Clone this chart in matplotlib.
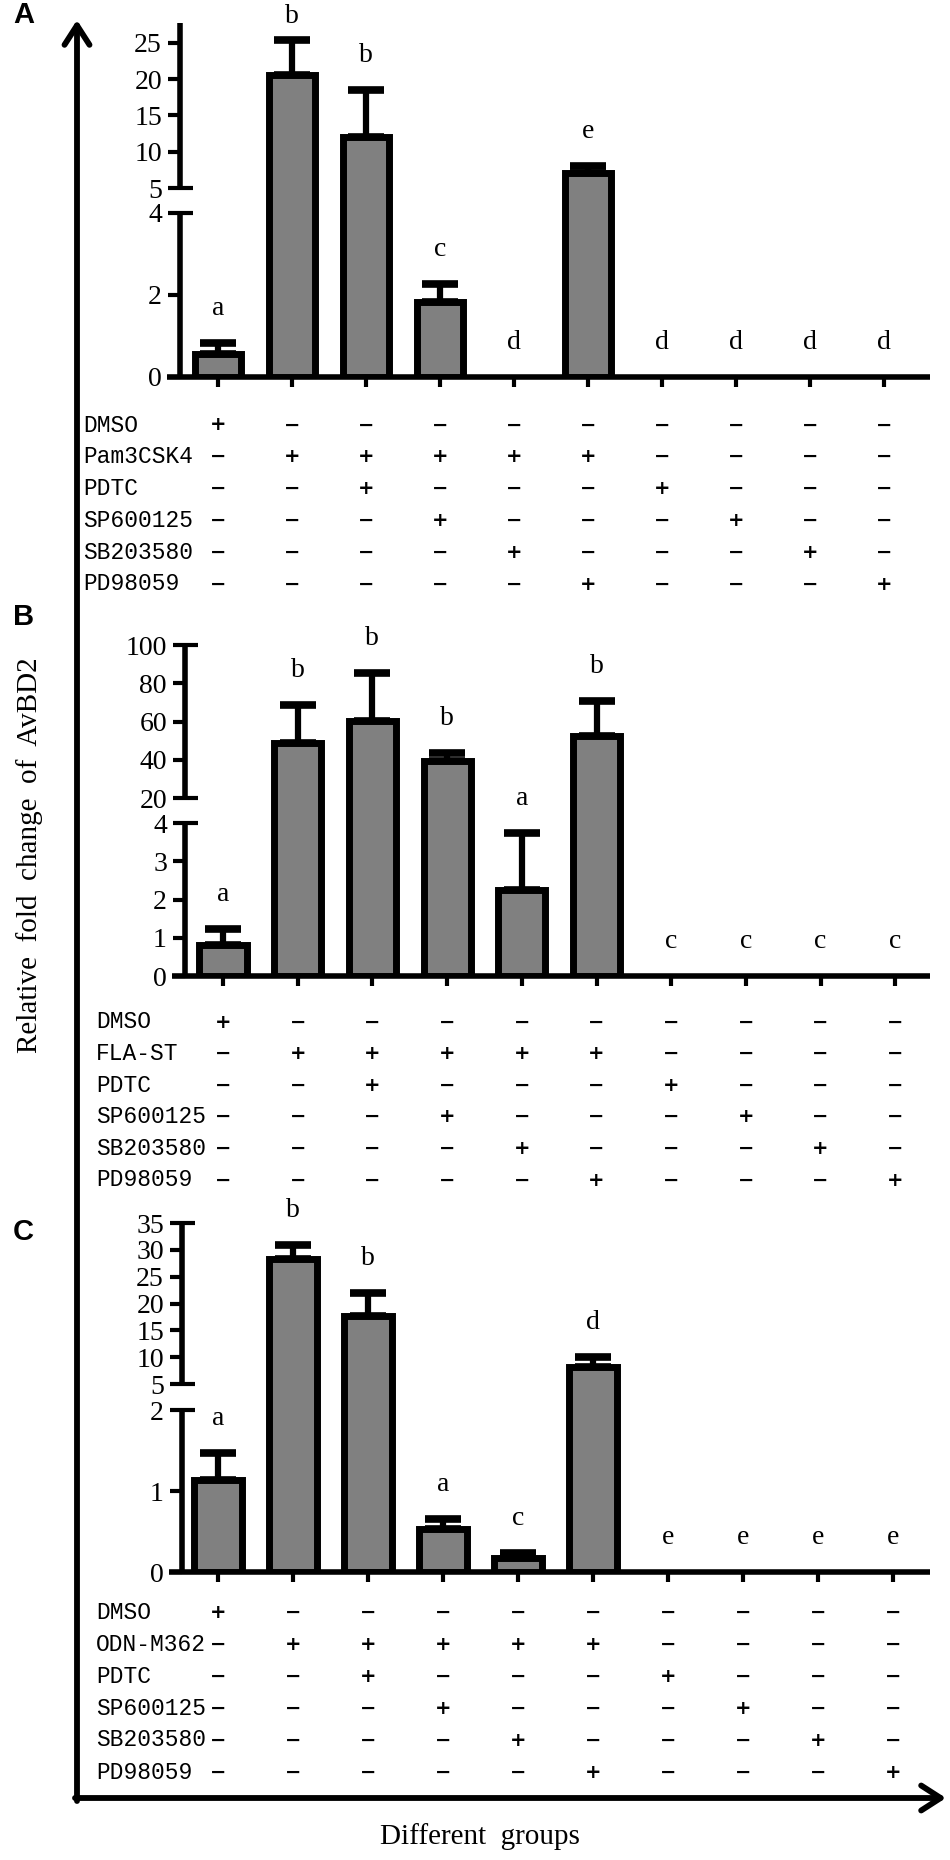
import numpy as np
import matplotlib
matplotlib.use('Agg')
import matplotlib.pyplot as plt
from matplotlib.transforms import blended_transform_factory
from matplotlib.patches import FancyArrowPatch

# data
groups = np.arange(10)
signs = ["+---------", "-+++++----", "--+---+---",
         "---+---+--", "----+---+-", "-----+---+"]
rows_a = ["DMSO", "Pam3CSK4", "PDTC", "SP600125", "SB203580", "PD98059"]
rows_b = ["DMSO", "FLA-ST", "PDTC", "SP600125", "SB203580", "PD98059"]
rows_c = ["DMSO", "ODN-M362", "PDTC", "SP600125", "SB203580", "PD98059"]

mean_a = [0.55, 20.6, 12.0, 1.83, 0, 7.1, 0, 0, 0, 0]
err_a = [0.28, 4.8, 6.5, 0.44, 0, 0.9, 0, 0, 0, 0]
let_a = ["a", "b", "b", "c", "d", "e", "d", "d", "d", "d"]

mean_b = [0.81, 48.5, 60.4, 39.5, 2.25, 52.6, 0, 0, 0, 0]
err_b = [0.42, 20.2, 24.9, 4.0, 1.48, 18.2, 0, 0, 0, 0]
let_b = ["a", "b", "b", "b", "a", "b", "c", "c", "c", "c"]

mean_c = [1.14, 28.3, 17.7, 0.53, 0.17, 8.1, 0, 0, 0, 0]
err_c = [0.33, 2.6, 4.2, 0.12, 0.06, 1.85, 0, 0, 0, 0]
let_c = ["a", "b", "b", "a", "c", "d", "e", "e", "e", "e"]

W, H = 950, 1860
plt.rcParams['font.family'] = ['Liberation Serif', 'DejaVu Serif']

fig = plt.figure(figsize=(W / 100, H / 100), dpi=100)


def fx(x):
    return x / W


def fy(y):
    return 1 - y / H


def make_scale(vals, px, base):
    u = [base - p for p in px]
    lo = (u[1] - u[0]) / (vals[1] - vals[0])
    hi = (u[3] - u[2]) / (vals[3] - vals[2])
    vv = [-1e4] + list(vals) + [1e5]
    uu = [u[0] - 1e4 * lo] + u + [u[3] + (1e5 - vals[3]) * hi]
    return (lambda v: np.interp(v, vv, uu)), (lambda w: np.interp(w, uu, vv))


def panel(mean, err, letters, rows, lay):
    ax_x, right_x, base_y, top_y, base_left = lay['ax']
    first, step = lay['cols']
    vals, px = lay['brk']
    ax = fig.add_axes([fx(ax_x), fy(base_y), (right_x - ax_x) / W,
                       (base_y - top_y) / H])
    fwd, inv = make_scale(vals, px, base_y)
    ax.set_yscale('function', functions=(fwd, inv))
    ytop = float(inv(base_y - top_y))
    ax.set_ylim(0, ytop)
    ax.set_xlim(-(first - ax_x) / step,
                9 + (right_x - (first + 9 * step)) / step)
    for s in ax.spines.values():
        s.set_visible(False)
    ax.patch.set_alpha(0)

    mean = np.array(mean)
    err = np.array(err)
    m = mean > 0
    ax.bar(groups[m], mean[m], width=0.63, color='#808080',
           edgecolor='black', linewidth=5, zorder=3)
    ax.errorbar(groups[m], mean[m], yerr=[np.zeros(m.sum()), err[m]],
                fmt='none', ecolor='black', elinewidth=4.5, capsize=13,
                capthick=5.5, zorder=2)
    for i, l in enumerate(letters):
        top = mean[i] + err[i]
        # keep the letter inside the picture (pixels from top)
        ypix = H - ax.transData.transform((i, top))[1]
        off = min(25, (ypix - 16) * 0.72)
        ax.annotate(l, (i, top), xytext=(0, off),
                    textcoords='offset points', ha='center', va='center',
                    fontsize=20)

    tr = ax.get_yaxis_transform()
    kw = dict(transform=tr, color='black', lw=4, clip_on=False,
              solid_capstyle='butt')
    ax.plot([0, 0], [0, vals[1]], **kw)
    ax.plot([0, 0], [vals[2], ytop], **kw)
    ax.plot([(base_left - ax_x) / (right_x - ax_x), 1], [0, 0], **kw)

    ax.set_yticks(lay['major'], labels=[str(v) for v in lay['major']])
    ax.set_yticks(lay['minor'], labels=[str(v) for v in lay['minor']],
                  minor=True)
    ax.tick_params(axis='y', which='major', direction='out', length=9,
                   width=3, labelsize=20, pad=4)
    ax.tick_params(axis='y', which='minor', direction='inout', length=18,
                   width=3, labelsize=20, pad=4)
    ax.set_xticks(groups, labels=[])
    ax.tick_params(axis='x', direction='out', length=7, width=3)

    trans = blended_transform_factory(ax.transData, fig.transFigure)
    y0, dy = lay['rows']
    for r, name in enumerate(rows):
        yy = fy(y0 + r * dy)
        fig.text(fx(lay['label_x']), yy, name, family='Liberation Mono',
                 fontsize=16.5, ha='left', va='center')
        for c, s in enumerate(signs[r]):
            ax.text(c, yy, '+' if s == '+' else '\u2212', transform=trans,
                    family='DejaVu Sans', fontweight='bold', fontsize=14,
                    ha='center', va='center')
    return ax


lay_a = dict(ax=(180, 930, 377, 23, 167), cols=(218, 74),
             brk=([0, 4, 5, 25], [377, 213, 188, 43]),
             major=[0, 2, 10, 15, 20, 25], minor=[4, 5],
             rows=(425, 31.8), label_x=83)
lay_b = dict(ax=(185, 930, 976, 645, 172), cols=(223, 74.7),
             brk=([0, 4, 20, 100], [976, 823, 798, 645]),
             major=[0, 1, 2, 3, 40, 60, 80], minor=[4, 20, 100],
             rows=(1022, 31.6), label_x=96)
lay_c = dict(ax=(182, 930, 1572, 1223, 169), cols=(218, 75),
             brk=([0, 2, 5, 35], [1572, 1410, 1384, 1223]),
             major=[0, 1, 10, 15, 20, 25, 30], minor=[2, 5, 35],
             rows=(1612, 32), label_x=96)

panel(mean_a, err_a, let_a, rows_a, lay_a)
panel(mean_b, err_b, let_b, rows_b, lay_b)
panel(mean_c, err_c, let_c, rows_c, lay_c)

# big arrows framing the figure
for p0, p1 in [((77, 1801), (77, 20)), ((75, 1798), (946, 1798))]:
    fig.patches.append(FancyArrowPatch(
        (fx(p0[0]), fy(p0[1])), (fx(p1[0]), fy(p1[1])),
        transform=fig.transFigure, arrowstyle='->,head_length=0.7,head_width=0.45',
        mutation_scale=20, lw=4.2, color='black', shrinkA=0, shrinkB=0))

fig.text(fx(30), fy(855), 'Relative  fold  change  of  AvBD2', rotation=90,
         ha='center', va='center', fontsize=21)
fig.text(fx(480), fy(1837), 'Different  groups', ha='center', va='center',
         fontsize=21)
for lab, x, y in [('A', 24, 15), ('B', 24, 617), ('C', 23, 1232)]:
    fig.text(fx(x), fy(y), lab, family='Liberation Sans', fontweight='bold',
             fontsize=21, ha='center', va='center')

fig.savefig('out.png', dpi=100)
